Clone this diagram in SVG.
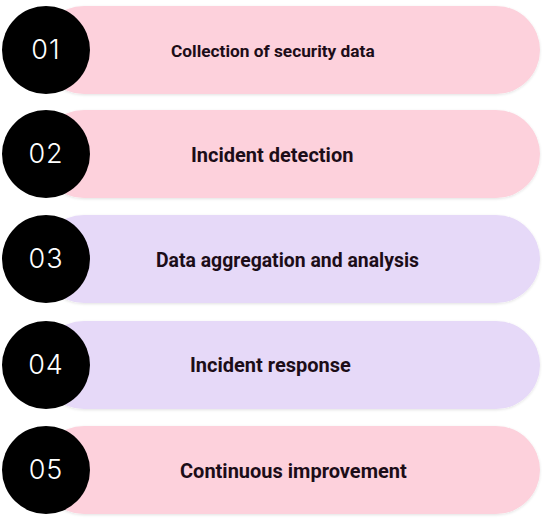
<svg xmlns="http://www.w3.org/2000/svg" width="546" height="521" viewBox="0 0 546 521">
<style>
.pink{fill:#fdd1dc}
.lav{fill:#e6d9f8}
.circ{fill:#000}
.num{font-family:Inter,"Liberation Sans",sans-serif;font-weight:300;font-size:27px;fill:#fff;text-anchor:middle;letter-spacing:1px}
.lbl{font-family:Roboto,"Liberation Sans",sans-serif;font-weight:700;font-size:20px;fill:#1c0d18}
.lbl.sm{font-size:17.3px}
.lbl.md{font-size:19.4px}
</style>
<defs>
<filter id="sh" x="-10%" y="-20%" width="120%" height="140%">
<feGaussianBlur in="SourceAlpha" stdDeviation="1.5"/>
<feOffset dy="1"/>
<feComponentTransfer><feFuncA type="linear" slope="0.12"/></feComponentTransfer>
<feMerge><feMergeNode/><feMergeNode in="SourceGraphic"/></feMerge>
</filter>
</defs>
<rect width="546" height="521" fill="#fff"/>
<g id="step1">
<rect class="pink" x="40" y="6" width="500" height="88" rx="44" filter="url(#sh)"/>
<circle class="circ" cx="46" cy="50" r="44"/>
<text class="num" x="46" y="59">01</text>
<text class="lbl sm" x="171" y="57">Collection of security data</text>
</g>
<g id="step2">
<rect class="pink" x="40" y="110" width="500" height="88" rx="44" filter="url(#sh)"/>
<circle class="circ" cx="46" cy="154" r="44"/>
<text class="num" x="46" y="163">02</text>
<text class="lbl" x="191" y="162">Incident detection</text>
</g>
<g id="step3">
<rect class="lav" x="40" y="215" width="500" height="88" rx="44" filter="url(#sh)"/>
<circle class="circ" cx="46" cy="259" r="44"/>
<text class="num" x="46" y="268">03</text>
<text class="lbl md" x="156" y="267">Data aggregation and analysis</text>
</g>
<g id="step4">
<rect class="lav" x="40" y="321" width="500" height="88" rx="44" filter="url(#sh)"/>
<circle class="circ" cx="46" cy="365" r="44"/>
<text class="num" x="46" y="374">04</text>
<text class="lbl" x="190" y="372">Incident response</text>
</g>
<g id="step5">
<rect class="pink" x="40" y="426" width="500" height="88" rx="44" filter="url(#sh)"/>
<circle class="circ" cx="46" cy="470" r="44"/>
<text class="num" x="46" y="479">05</text>
<text class="lbl" x="180" y="478">Continuous improvement</text>
</g>
<g id="connectors"/>
</svg>
